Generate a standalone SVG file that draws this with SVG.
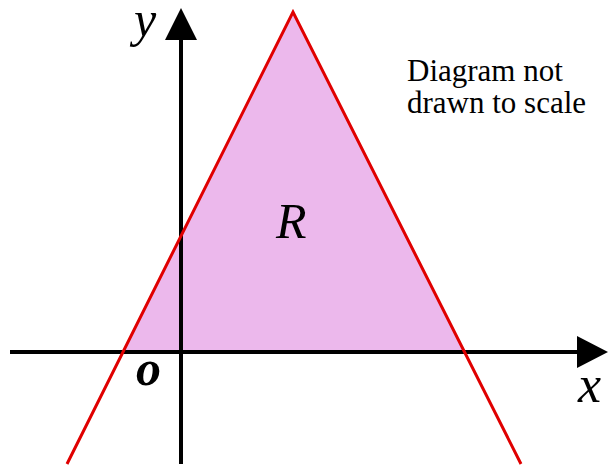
<svg xmlns="http://www.w3.org/2000/svg" width="608" height="467" viewBox="0 0 608 467">
<style>
.ax{stroke:#000;stroke-width:4;fill:none}
.red{stroke:#e00000;stroke-width:3;fill:none}
</style>
<g id="region">
<polygon points="123,352 293,12 464,352" fill="#ecb8ec"/>
</g>
<g id="connectors">
<line class="ax" x1="10" y1="352" x2="580" y2="352"/>
<polygon points="577,336 608,352 577,368" fill="#000"/>
<line class="ax" x1="181" y1="464" x2="181" y2="38"/>
<polygon points="165,40 181,8 197,40" fill="#000"/>
<polyline class="red" points="67,464 293,12 521,464"/>
</g>
<g id="labels" font-family="Liberation Serif, DejaVu Serif, serif" fill="#000">
<text x="134" y="36" font-size="50" font-style="italic">y</text>
<text x="578" y="402" font-size="52" font-style="italic">x</text>
<text x="136" y="385" font-size="50" font-style="italic" font-weight="bold">o</text>
<text x="276" y="238" font-size="50" font-style="italic">R</text>
<text x="407" y="81" font-size="31">Diagram not</text>
<text x="407" y="113" font-size="31">drawn to scale</text>
</g>
</svg>
